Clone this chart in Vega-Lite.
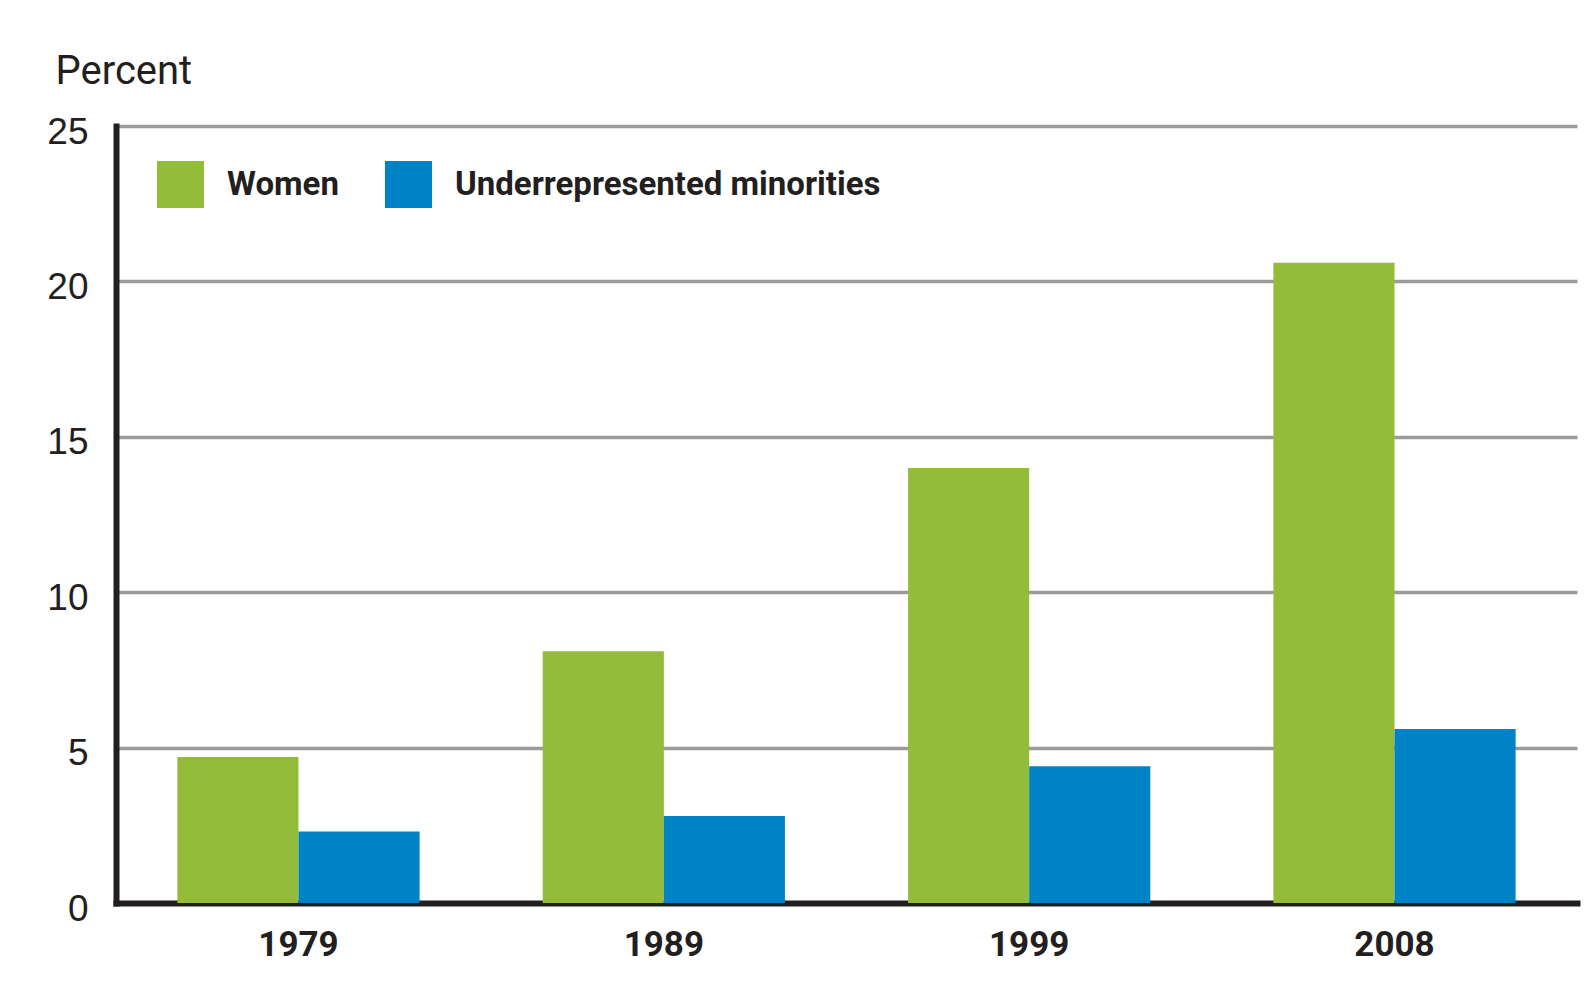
{
  "$schema": "https://vega.github.io/schema/vega-lite/v6.json",
  "autosize": {"type": "none"},
  "padding": {"left": 116, "top": 126, "right": 17, "bottom": 94},
  "width": 1461,
  "height": 777,
  "background": "#ffffff",
  "data": {
    "values": [
      {"year": "1979", "group": "Women", "percent": 4.7},
      {"year": "1979", "group": "Underrepresented minorities", "percent": 2.3},
      {"year": "1989", "group": "Women", "percent": 8.1},
      {"year": "1989", "group": "Underrepresented minorities", "percent": 2.8},
      {"year": "1999", "group": "Women", "percent": 14.0},
      {"year": "1999", "group": "Underrepresented minorities", "percent": 4.4},
      {"year": "2008", "group": "Women", "percent": 20.6},
      {"year": "2008", "group": "Underrepresented minorities", "percent": 5.6}
    ]
  },
  "mark": {"type": "bar"},
  "encoding": {
    "x": {
      "field": "year",
      "type": "nominal",
      "scale": {"paddingInner": 0.337, "paddingOuter": 0.168},
      "axis": {
        "title": null,
        "labelAngle": 0,
        "labelFont": "Roboto",
        "labelFontSize": 35,
        "labelFontWeight": "bold",
        "labelColor": "#231f20",
        "labelPadding": 24,
        "ticks": false,
        "tickSize": 0,
        "domainColor": "#231f20",
        "domainWidth": 6,
        "domainCap": "square",
        "grid": false
      }
    },
    "xOffset": {
      "field": "group",
      "type": "nominal",
      "sort": ["Women", "Underrepresented minorities"],
      "scale": {"paddingInner": 0, "paddingOuter": 0}
    },
    "y": {
      "field": "percent",
      "type": "quantitative",
      "scale": {"domain": [0, 25], "nice": false},
      "axis": {
        "title": "Percent",
        "titleAngle": 0,
        "titleX": -61,
        "titleY": -43,
        "titleAlign": "left",
        "titleBaseline": "alphabetic",
        "titleFont": "Roboto",
        "titleFontSize": 40,
        "titleFontWeight": "normal",
        "titleColor": "#231f20",
        "values": [0, 5, 10, 15, 20, 25],
        "labelFont": "Liberation Sans",
        "labelFontSize": 37,
        "labelColor": "#231f20",
        "labelPadding": 28,
        "labelOffset": 6,
        "ticks": false,
        "tickSize": 0,
        "domainColor": "#231f20",
        "domainWidth": 6,
        "domainCap": "square",
        "grid": true,
        "gridColor": "#9b9b9b",
        "gridWidth": 3.5
      }
    },
    "color": {
      "field": "group",
      "type": "nominal",
      "sort": ["Women", "Underrepresented minorities"],
      "scale": {"domain": ["Women", "Underrepresented minorities"], "range": ["#92bc3a", "#0083c6"]},
      "legend": {
        "title": null,
        "orient": "none",
        "legendX": 41,
        "legendY": 35,
        "direction": "horizontal",
        "padding": 0,
        "symbolType": "square",
        "symbolSize": 2209,
        "symbolStrokeWidth": 0,
        "symbolOpacity": 1,
        "labelFont": "Roboto",
        "labelFontSize": 33,
        "labelFontWeight": "bold",
        "labelColor": "#231f20",
        "labelOffset": 23,
        "columnPadding": 46,
        "labelLimit": 600
      }
    }
  },
  "config": {
    "view": {"stroke": null},
    "axis": {"zindex": 0}
  }
}
